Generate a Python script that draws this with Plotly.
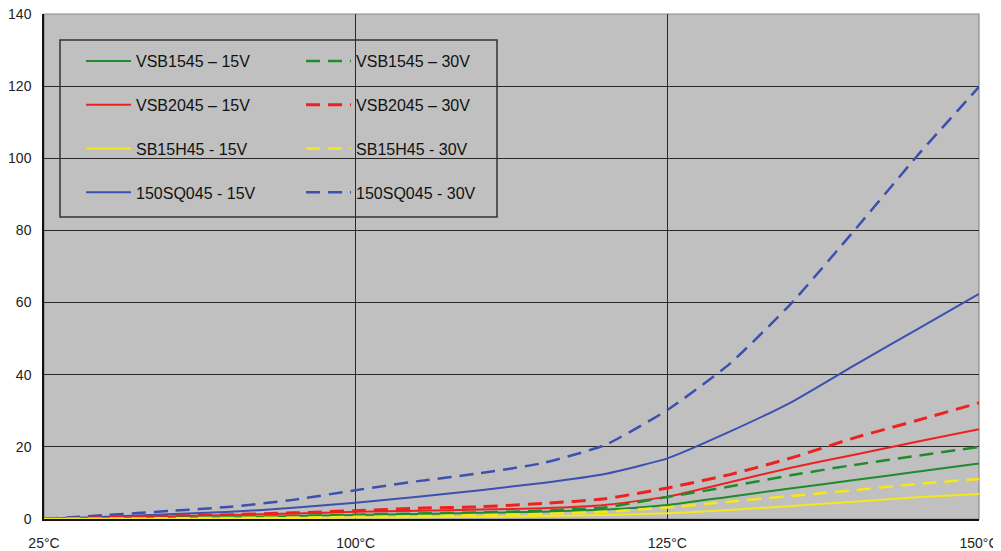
import plotly.graph_objects as go

# Category axis (equally spaced categories, only some labelled)
temps = ["25°C", "40°C", "55°C", "70°C", "85°C", "100°C", "105°C", "110°C",
         "115°C", "120°C", "125°C", "130°C", "135°C", "140°C", "145°C", "150°C"]
tick_labels = ["25°C", "100°C", "125°C", "150°C"]

vsb1545_15 = [0, 0.1, 0.3, 0.5, 0.8, 1.1, 1.4, 1.7, 2.0, 2.6, 3.9, 6.2, 8.5, 10.8, 13.1, 15.4]
vsb1545_30 = [0, 0.1, 0.3, 0.5, 0.8, 1.2, 1.5, 1.8, 2.3, 3.2, 6.1, 9.0, 12.2, 15.0, 17.5, 20.0]
vsb2045_15 = [0, 0.3, 0.7, 1.1, 1.5, 2.0, 2.3, 2.6, 3.0, 3.9, 6.2, 10.2, 14.3, 17.8, 21.4, 24.9]
vsb2045_30 = [0, 0.4, 0.8, 1.2, 1.7, 2.3, 3.0, 3.4, 4.3, 5.6, 8.6, 12.3, 17.0, 22.5, 27.3, 32.2]
sb15h45_15 = [0, 0.05, 0.1, 0.2, 0.3, 0.4, 0.5, 0.6, 0.8, 1.1, 1.6, 2.5, 3.6, 4.8, 6.0, 6.9]
sb15h45_30 = [0, 0.1, 0.2, 0.3, 0.4, 0.6, 0.8, 1.1, 1.4, 2.0, 3.2, 4.8, 6.4, 8.0, 9.7, 11.1]
sq045_15 = [0, 0.6, 1.3, 2.0, 3.1, 4.5, 6.2, 8.0, 10.0, 12.5, 16.8, 24.2, 32.5, 42.6, 52.5, 62.4]
sq045_30 = [0, 1.1, 2.2, 3.4, 5.3, 8.0, 10.5, 12.7, 15.5, 20.5, 30.2, 43.0, 60.0, 80.0, 100.5, 119.8]

GREEN = "#1F8B2C"
RED = "#EE2020"
YELLOW = "#F5E71C"
BLUE = "#3D50B0"
FONT = "Arial, Liberation Sans, sans-serif"

# (name, values, color, dashed, legend, rank, width)
series = [
    ("150SQ045 - 30V", sq045_30, BLUE, True, "legend2", 4, 2.5),
    ("150SQ045 - 15V", sq045_15, BLUE, False, "legend", 4, 2),
    ("VSB2045 – 30V", vsb2045_30, RED, True, "legend2", 2, 3),
    ("VSB2045 – 15V", vsb2045_15, RED, False, "legend", 2, 2),
    ("VSB1545 – 30V", vsb1545_30, GREEN, True, "legend2", 1, 2.5),
    ("VSB1545 – 15V", vsb1545_15, GREEN, False, "legend", 1, 2),
    ("SB15H45 - 30V", sb15h45_30, YELLOW, True, "legend2", 3, 2.5),
    ("SB15H45 - 15V", sb15h45_15, YELLOW, False, "legend", 3, 2),
]

fig = go.Figure()
for name, vals, col, dashed, leg, rank, w in series:
    fig.add_trace(go.Scatter(
        x=temps, y=vals, name=name, mode="lines",
        line=dict(color=col, width=w, dash="14px,8px" if dashed else "solid",
                  shape="spline", smoothing=0.5),
        legend=leg, legendgroup=name, legendrank=rank,
    ))

legend_common = dict(
    xanchor="left", yanchor="top",
    bgcolor="rgba(0,0,0,0)", borderwidth=0,
    font=dict(size=16, family=FONT, color="#111"),
    tracegroupgap=20, traceorder="grouped", itemwidth=45,
)

# page body has an 8px margin, so the figure is sized to fit the 1001x551 window
fig.update_layout(
    width=993, height=543,
    margin=dict(l=36, r=22, t=6, b=32),
    paper_bgcolor="white",
    plot_bgcolor="#C0C0C0",
    font=dict(family=FONT, color="#222"),
    showlegend=True,
    legend=dict(x=0.0396, y=0.9406, **legend_common),
    legend2=dict(x=0.2749, y=0.9406, **legend_common),
    xaxis=dict(
        type="category", range=[0, len(temps) - 1],
        tickmode="array", tickvals=tick_labels, ticktext=tick_labels,
        showgrid=True, gridcolor="#2a2a2a", gridwidth=1.3,
        showline=True, linecolor="#111", linewidth=1.5,
        ticks="", tickfont=dict(size=14, color="#222"),
        ticklabelstandoff=10, automargin=False, ticklabeloverflow="allow",
    ),
    yaxis=dict(
        range=[0, 140], dtick=20, tick0=0,
        showgrid=True, gridcolor="#2a2a2a", gridwidth=1.3,
        showline=True, linecolor="#111", linewidth=1.5,
        zeroline=False, ticks="", tickfont=dict(size=14, color="#222"),
        ticklabelstandoff=8, automargin=False, ticklabeloverflow="allow",
    ),
    shapes=[
        dict(type="rect", xref="paper", yref="paper", x0=0, x1=1, y0=0, y1=1,
             line=dict(color="#8a8a8a", width=1.2), fillcolor="rgba(0,0,0,0)",
             layer="between"),
        dict(type="rect", xref="paper", yref="paper",
             x0=0.0171, x1=0.4845, y0=0.598, y1=0.9485,
             line=dict(color="#333333", width=1.5), fillcolor="#C0C0C0",
             layer="between"),
    ],
)

fig.write_html("out.html")
